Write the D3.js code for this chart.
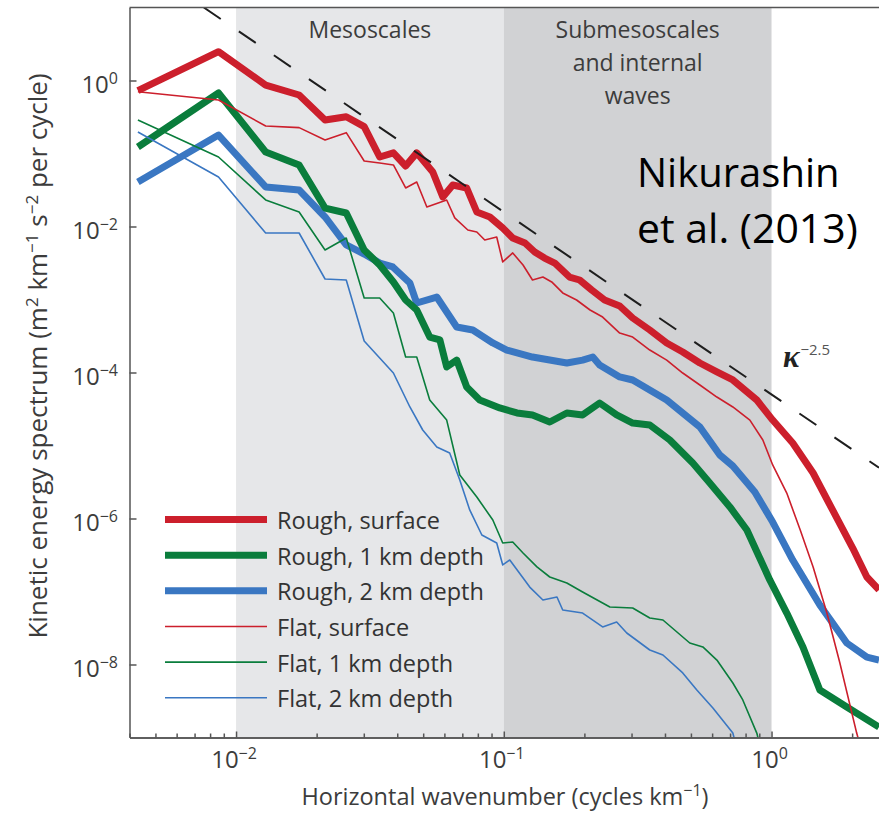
<!doctype html>
<html lang="en">
<head>
<meta charset="UTF-8">
<title>Kinetic energy spectra</title>
<script src="https://d3js.org/d3.v7.min.js"></script>
<style>
  body { margin: 0; background: #fff; }
  text { font-family: "Open Sans", "Noto Sans", sans-serif; }
</style>
</head>
<body>
<div id="chart-area"></div>
<script>
// [wavenumber (cycles/km), KE spectrum (m2 km-1 s-2 per cycle)]
const roughSurface = [[0.0043,0.725],[0.0086,2.48],[0.0129,0.867],[0.0172,0.633],[0.0215,0.288],[0.0258,0.319],[0.0301,0.233],[0.0344,0.0895],[0.0387,0.102],[0.043,0.0674],[0.0473,0.102],[0.0543,0.0558],[0.0592,0.0254],[0.0645,0.037],[0.0727,0.0337],[0.0793,0.0158],[0.0887,0.0135],[0.0991,0.00953],[0.108,0.00695],[0.12,0.00594],[0.1305,0.00448],[0.142,0.0037],[0.155,0.00316],[0.176,0.00203],[0.192,0.00185],[0.213,0.00135],[0.238,0.000984],[0.271,0.000815],[0.303,0.000558],[0.351,0.000382],[0.406,0.000254],[0.466,0.000191],[0.54,0.000135],[0.625,0.000102],[0.717,7.9e-5],[0.881,4.2e-5],[1.01,2.23e-5],[1.2,1.08e-5],[1.43,4.2e-6],[1.69,1.31e-6],[2.01,3.94e-7],[2.27,1.58e-7],[2.52,1.05e-7]];
const roughOneKm = [[0.0043,0.1227],[0.0086,0.674],[0.0129,0.105],[0.0172,0.0696],[0.0215,0.0179],[0.0258,0.0153],[0.0301,0.00477],[0.0344,0.00297],[0.0387,0.00174],[0.043,0.000984],[0.0473,0.000718],[0.0529,0.000306],[0.0577,0.000279],[0.0612,0.000119],[0.0667,0.000148],[0.0727,6.33e-5],[0.0813,4.2e-5],[0.0966,3.27e-5],[0.112,2.79e-5],[0.128,2.62e-5],[0.1485,2.1e-5],[0.172,2.79e-5],[0.197,2.62e-5],[0.228,3.82e-5],[0.264,2.62e-5],[0.303,2.03e-5],[0.351,1.91e-5],[0.417,1.19e-5],[0.508,5.75e-6],[0.588,3.06e-6],[0.699,1.44e-6],[0.809,6.95e-7],[0.985,1.44e-7],[1.14,5.07e-8],[1.31,1.74e-8],[1.515,4.48e-9],[1.91,2.62e-9],[2.52,1.39e-9]];
const roughTwoKm = [[0.0043,0.0407],[0.0086,0.179],[0.0129,0.0348],[0.0172,0.0316],[0.0215,0.0135],[0.0258,0.00558],[0.0301,0.0042],[0.0344,0.00316],[0.0385,0.00279],[0.0446,0.00168],[0.0473,0.000895],[0.0562,0.00108],[0.0667,0.00042],[0.0766,0.000382],[0.091,0.000254],[0.1026,0.000203],[0.128,0.000163],[0.172,0.000135],[0.197,0.000148],[0.215,0.000163],[0.228,0.000127],[0.271,8.7e-5],[0.303,7.89e-5],[0.406,4.2e-5],[0.54,1.79e-5],[0.641,7.41e-6],[0.717,5.24e-6],[0.866,2.31e-6],[1.01,8.95e-7],[1.2,2.7e-7],[1.515,6.53e-8],[1.91,1.97e-8],[2.27,1.26e-8],[2.52,1.15e-8]];
const flatSurface = [[0.0043,0.703],[0.0086,0.541],[0.0129,0.238],[0.0172,0.226],[0.0215,0.153],[0.0258,0.193],[0.0301,0.0789],[0.0344,0.0741],[0.0387,0.0696],[0.043,0.0337],[0.0473,0.0407],[0.0516,0.0185],[0.0612,0.0231],[0.0656,0.0131],[0.0734,0.00895],[0.0793,0.00841],[0.0849,0.00653],[0.0941,0.00718],[0.0991,0.00327],[0.108,0.00434],[0.118,0.00297],[0.128,0.00185],[0.14,0.00203],[0.151,0.00174],[0.166,0.00123],[0.187,0.000984],[0.21,0.000718],[0.234,0.000575],[0.271,0.000347],[0.303,0.000306],[0.351,0.000203],[0.406,0.000148],[0.466,9.84e-5],[0.54,6.74e-5],[0.625,4.61e-5],[0.717,3.37e-5],[0.83,2.23e-5],[0.928,1.19e-5],[1.01,5.41e-6],[1.14,2.23e-6],[1.28,6.95e-7],[1.43,2.17e-7],[1.61,5.07e-8],[1.8,1.05e-8],[2.08,1.15e-9],[2.14,7.9e-10]];
const flatOneKm = [[0.0043,0.288],[0.0086,0.0895],[0.0129,0.0231],[0.0172,0.0158],[0.0215,0.00477],[0.0258,0.00695],[0.0301,0.00105],[0.0344,0.00105],[0.0387,0.000653],[0.043,0.000163],[0.0473,0.000163],[0.0529,4.2e-5],[0.0612,2.23e-5],[0.0685,3.94e-6],[0.0793,1.97e-6],[0.091,9.53e-7],[0.0991,4.61e-7],[0.108,4.76e-7],[0.118,3.37e-7],[0.133,2.17e-7],[0.1485,1.58e-7],[0.172,1.31e-7],[0.197,9.84e-8],[0.249,6.14e-8],[0.303,5.94e-8],[0.351,4.33e-8],[0.393,4.07e-8],[0.495,1.97e-8],[0.554,1.74e-8],[0.625,1.15e-8],[0.717,5.58e-9],[0.781,3.27e-9],[0.881,1.15e-9],[0.904,7.9e-10]];
const flatTwoKm = [[0.0043,0.197],[0.0086,0.0476],[0.0129,0.00815],[0.0172,0.00815],[0.0215,0.00191],[0.0258,0.00185],[0.0301,0.00027],[0.0344,0.000158],[0.0387,9.84e-5],[0.0446,3.37e-5],[0.0498,1.63e-5],[0.0562,9.53e-6],[0.0628,7.89e-6],[0.0685,3.37e-6],[0.0746,1.31e-6],[0.0828,5.94e-7],[0.0941,4.61e-7],[0.0991,2.31e-7],[0.1053,2.7e-7],[0.125,1.15e-7],[0.14,7.66e-8],[0.158,8.41e-8],[0.166,5.58e-8],[0.197,5.07e-8],[0.234,3.27e-8],[0.264,3.82e-8],[0.288,2.7e-8],[0.351,1.58e-8],[0.393,1.35e-8],[0.466,7.66e-9],[0.526,4.48e-9],[0.604,2.54e-9],[0.717,1.15e-9],[0.736,7.9e-10]];

const legendNames = ['Rough, surface', 'Rough, 1 km depth', 'Rough, 2 km depth', 'Flat, surface', 'Flat, 1 km depth', 'Flat, 2 km depth'];
const bandEdges = [[0.01, 0.1], [0.1, 1]];
const bandLabels = [['Mesoscales'], ['Submesoscales', 'and internal', 'waves']];
const kDomain = [0.004, 2.52];
const eDomain = [1e-9, 1e1];
const xMajor = [0.01, 0.1, 1];
const yMajor = [1, 1e-2, 1e-4, 1e-6, 1e-8];
// reference slope kappa^-2.5
const refCoef = 5.0e-5;
const refSlope = -2.5;

const RED = '#cc1f2c', GREEN = '#0a7d3c', BLUE = '#3a77c2';
const plot = { left: 129.5, right: 879, top: 7.5, bottom: 737.5 };

const svg = d3.select('#chart-area')
    .append('svg')
    .attr('width', 879)
    .attr('height', 814);

const x = d3.scaleLog().domain(kDomain).range([plot.left, plot.right]);
const y = d3.scaleLog().domain(eDomain).range([plot.bottom, plot.top]);

svg.append('clipPath').attr('id', 'clip')
    .append('rect')
    .attr('x', plot.left).attr('y', plot.top)
    .attr('width', plot.right - plot.left).attr('height', plot.bottom - plot.top);

// shaded bands
const bandFill = ['#e6e7e9', '#d1d2d4'];
svg.selectAll('rect.band')
    .data(bandEdges)
    .enter().append('rect')
    .attr('class', 'band')
    .attr('x', d => x(d[0]))
    .attr('y', plot.top)
    .attr('width', d => x(d[1]) - x(d[0]))
    .attr('height', plot.bottom - plot.top)
    .attr('fill', (d, i) => bandFill[i]);

bandLabels.forEach((lines, i) => {
    const cx = (x(bandEdges[i][0]) + x(bandEdges[i][1])) / 2;
    lines.forEach((t, j) => {
        svg.append('text')
            .attr('x', cx)
            .attr('y', 38 + j * 33)
            .attr('text-anchor', 'middle')
            .attr('font-size', 23)
            .attr('fill', '#3c3c3c')
            .text(t);
    });
});

// curves
const line = d3.line().x(d => x(d[0])).y(d => y(d[1]));
const series = [
    { data: roughTwoKm, color: BLUE, w: 7 },
    { data: roughOneKm, color: GREEN, w: 7 },
    { data: roughSurface, color: RED, w: 7 },
    { data: flatTwoKm, color: BLUE, w: 1.6 },
    { data: flatOneKm, color: GREEN, w: 1.6 },
    { data: flatSurface, color: RED, w: 1.6 }
];
const curves = svg.append('g').attr('clip-path', 'url(#clip)');
curves.selectAll('path')
    .data(series)
    .enter().append('path')
    .attr('d', d => line(d.data))
    .attr('fill', 'none')
    .attr('stroke', d => d.color)
    .attr('stroke-width', d => d.w)
    .attr('stroke-linejoin', 'round');

// kappa^-2.5 dashed reference
const kStart = Math.pow(eDomain[1] / refCoef, 1 / refSlope);
const refPts = [kStart, kDomain[1]].map(k => [k, refCoef * Math.pow(k, refSlope)]);
curves.append('path')
    .attr('d', line(refPts))
    .attr('fill', 'none')
    .attr('stroke', '#1e1e1e')
    .attr('stroke-width', 2)
    .attr('stroke-dasharray', '20.5,21.9');

svg.append('text')
    .attr('x', 783).attr('y', 367)
    .call(t => {
        t.append('tspan').text('κ')
            .attr('font-family', '"Liberation Serif", serif')
            .attr('font-style', 'italic').attr('font-weight', 'bold')
            .attr('font-size', 31).attr('fill', '#222');
        t.append('tspan').text('−2.5')
            .attr('font-size', 15).attr('dy', -12).attr('dx', 1).attr('fill', '#555');
    });

// axes
const axisColor = '#555';
const minorX = x.ticks().filter(v => Math.abs(Math.log10(v) - Math.round(Math.log10(v))) > 1e-6);
svg.append('g')
    .attr('transform', `translate(0,${plot.bottom})`)
    .call(d3.axisBottom(x).tickValues(minorX).tickSize(-4).tickSizeOuter(0).tickFormat(''));
svg.append('g')
    .attr('transform', `translate(0,${plot.bottom})`)
    .call(d3.axisBottom(x).tickValues(xMajor).tickSize(-6).tickSizeOuter(0).tickFormat(''));
svg.append('g')
    .attr('transform', `translate(${plot.left},0)`)
    .call(d3.axisLeft(y).tickValues(yMajor).tickSize(-7).tickSizeOuter(0).tickFormat(''));
svg.append('line')
    .attr('x1', plot.left).attr('x2', plot.right)
    .attr('y1', plot.top).attr('y2', plot.top);
svg.selectAll('.domain, .tick line, svg > line')
    .attr('stroke', axisColor)
    .attr('stroke-width', 1.5);

function powLabel(sel, v) {
    const e = Math.round(Math.log10(v));
    sel.append('tspan').text('10');
    sel.append('tspan').text(e < 0 ? '−' + (-e) : String(e))
        .attr('font-size', 16).attr('dy', -9);
}

xMajor.forEach(v => {
    svg.append('text')
        .attr('x', x(v) - 2).attr('y', 768)
        .attr('text-anchor', 'middle')
        .attr('font-size', 24).attr('fill', '#3c3c3c')
        .call(powLabel, v);
});
yMajor.forEach(v => {
    svg.append('text')
        .attr('x', 118).attr('y', y(v) + 12.5)
        .attr('text-anchor', 'end')
        .attr('font-size', 24).attr('fill', '#3c3c3c')
        .call(powLabel, v);
});

// axis titles
function sup(sel, s, fs) {
    sel.append('tspan').text(s).attr('font-size', fs).attr('dy', -9);
}
function base(sel, s) {
    sel.append('tspan').text(s).attr('dy', 9);
}
svg.append('text')
    .attr('x', 505).attr('y', 805)
    .attr('text-anchor', 'middle')
    .attr('font-size', 23.5).attr('fill', '#3c3c3c')
    .call(t => {
        t.append('tspan').text('Horizontal wavenumber (cycles km');
        sup(t, '−1', 16);
        base(t, ')');
    });

svg.append('text')
    .attr('transform', 'translate(47,356) rotate(-90)')
    .attr('text-anchor', 'middle')
    .attr('font-size', 26).attr('fill', '#3c3c3c')
    .call(t => {
        t.append('tspan').text('Kinetic energy spectrum (m');
        sup(t, '2', 17);
        base(t, ' km');
        sup(t, '−1', 17);
        base(t, ' s');
        sup(t, '−2', 17);
        base(t, ' per cycle)');
    });

// legend
const legendColors = [RED, GREEN, BLUE, RED, GREEN, BLUE];
const legendWidths = [7, 7, 7, 1.6, 1.6, 1.6];
const lg = svg.append('g');
legendNames.forEach((name, i) => {
    const ly = 519.5 + i * 35.65;
    lg.append('line')
        .attr('x1', 165).attr('x2', 267)
        .attr('y1', ly).attr('y2', ly)
        .attr('stroke', legendColors[i])
        .attr('stroke-width', legendWidths[i]);
    lg.append('text')
        .attr('x', 277).attr('y', ly + 9.5)
        .attr('font-size', 23.5).attr('fill', '#333')
        .text(name);
});

// citation
svg.append('text').attr('x', 637).attr('y', 187)
    .attr('font-size', 40).attr('fill', '#000').text('Nikurashin');
svg.append('text').attr('x', 637).attr('y', 243)
    .attr('font-size', 41).attr('fill', '#000').text('et al. (2013)');
</script>
</body>
</html>
